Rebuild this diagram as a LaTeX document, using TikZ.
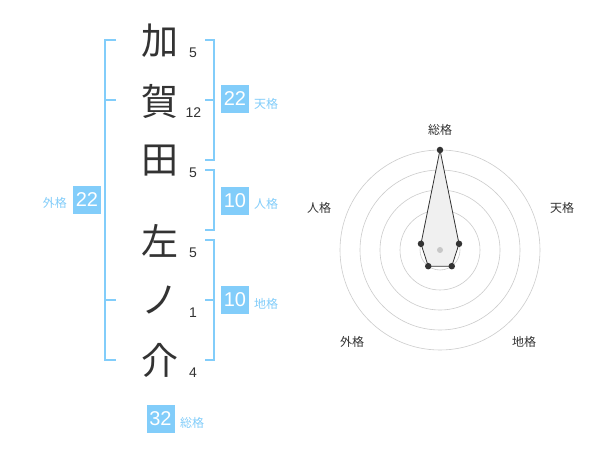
\documentclass[tikz,border=0pt]{standalone}
\usepackage{fontspec}
\setmainfont{Liberation Sans}
\newfontfamily\jp{Noto Sans CJK JP}
\definecolor{txt}{RGB}{51,51,51}
\definecolor{lblue}{RGB}{130,205,250}
\definecolor{boxblue}{RGB}{130,205,250}
\begin{document}
\begin{tikzpicture}[x=1pt,y=-1pt,
  kanji/.style={text=txt,font=\jp\fontsize{37}{37}\selectfont,inner sep=0},
  num/.style={text=txt,font=\fontsize{14}{14}\selectfont,inner sep=0},
  valbox/.style={fill=boxblue,text=white,minimum size=28pt,inner sep=0,font=\fontsize{20}{20}\selectfont},
  lab/.style={text=lblue,font=\jp\fontsize{12}{12}\selectfont,inner sep=0},
  rlab/.style={text=txt,font=\jp\fontsize{12}{12}\selectfont,inner sep=0},
  brk/.style={draw=lblue,line width=2pt},
  ring/.style={draw=black!20,line width=0.6pt},
  dot/.style={circle,fill=txt,inner sep=0,minimum size=6.5pt}]
\useasboundingbox[fill=white] (0,0) rectangle (600,470);

% name characters
\node[kanji] (k1) at (160,41) {加};
\node[kanji] (k2) at (160,101) {賀};
\node[kanji] (k3) at (160,161) {田};
\node[kanji] (k4) at (160,241) {左};
\node[kanji] (k5) at (160,300) {ノ};
\node[kanji] (k6) at (160,360) {介};

% stroke counts
\node[num] (n1) at (193,52.5) {5};
\node[num] (n2) at (193.5,112.8) {12};
\node[num] (n3) at (193,172.5) {5};
\node[num] (n4) at (193,252.5) {5};
\node[num] (n5) at (193,313) {1};
\node[num] (n6) at (193,373) {4};

% left bracket (外格)
\draw[brk] (116,40) -- (105,40) -- (105,360) -- (116,360);
\draw[brk] (105,100) -- (116,100);
\draw[brk] (105,300) -- (116,300);
\node[valbox] (gai) at (87,200) {22};
\node[lab,anchor=east] (gail) at (67,203) {外格};

% right brackets
\draw[brk] (205,40) -- (214,40) -- (214,160) -- (205,160);
\draw[brk] (205,100) -- (214,100);
\node[valbox] (ten) at (235,99) {22};
\node[lab,anchor=west] (tenl) at (254,103.5) {天格};

\draw[brk] (205,170) -- (214,170) -- (214,230) -- (205,230);
\node[valbox] (jin) at (235,201) {10};
\node[lab,anchor=west] (jinl) at (254,203.5) {人格};

\draw[brk] (205,240) -- (214,240) -- (214,360) -- (205,360);
\draw[brk] (205,300) -- (214,300);
\node[valbox] (chi) at (235,300) {10};
\node[lab,anchor=west] (chil) at (254,303.5) {地格};

% total
\node[valbox] (sou) at (160.5,419) {32};
\node[lab,anchor=west] (soul) at (180,422.5) {総格};

% radar chart
\coordinate (c) at (440,250);
\foreach \r in {20,40,60,80,100} \draw[ring] (c) circle[radius=\r];
\coordinate (p1) at (440,150);
\coordinate (p2) at (459.02,243.82);
\coordinate (p3) at (451.76,266.18);
\coordinate (p4) at (428.24,266.18);
\coordinate (p5) at (420.98,243.82);
\draw[fill=black!6,draw=txt,line width=0.8pt,line join=round] (p1) -- (p2) -- (p3) -- (p4) -- (p5) -- cycle;
\node[circle,fill=black!22,inner sep=0,minimum size=6pt] (cd) at (c) {};
\foreach \p in {p1,p2,p3,p4,p5} \node[dot] at (\p) {};

\node[rlab] (r1) at (440,130) {総格};
\node[rlab] (r2) at (562,208) {天格};
\node[rlab] (r3) at (524,342) {地格};
\node[rlab] (r4) at (352,342) {外格};
\node[rlab] (r5) at (319,208) {人格};
\end{tikzpicture}
\end{document}
